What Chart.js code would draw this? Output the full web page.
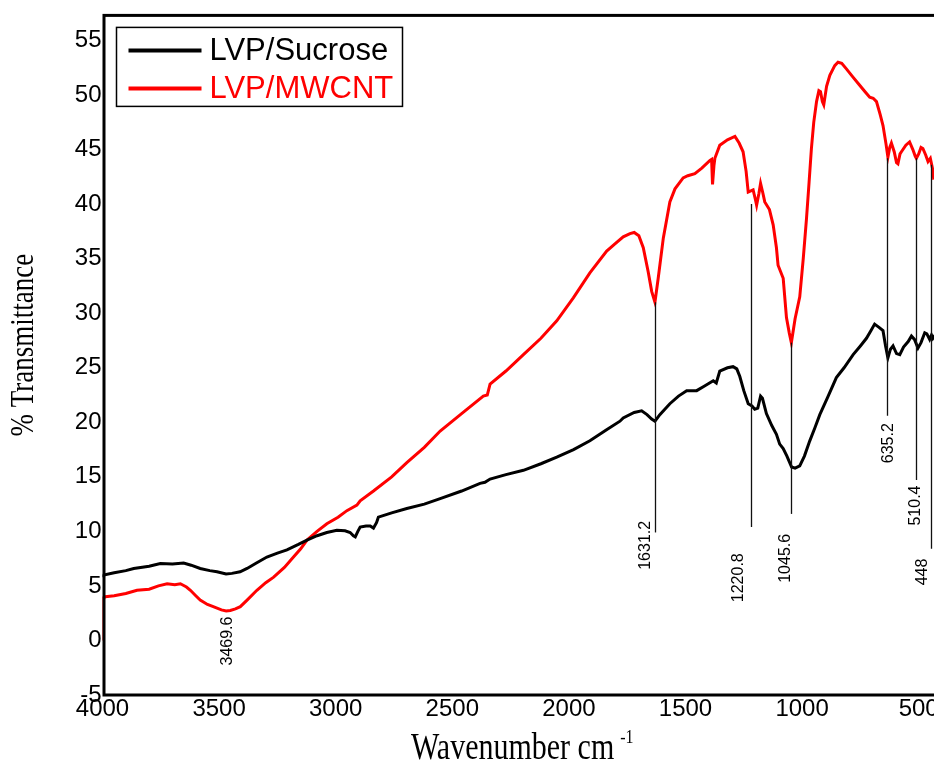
<!DOCTYPE html>
<html>
<head>
<meta charset="utf-8">
<title>FTIR spectra</title>
<script src="https://cdn.jsdelivr.net/npm/chart.js@4.4.1/dist/chart.umd.min.js"></script>
<style>
    html, body { margin: 0; padding: 0; background: #fff; overflow: hidden; }
    #ftir-chart { display: block; }
</style>
</head>
<body>
<canvas id="ftir-chart" width="950" height="762"></canvas>
<script>
'use strict';

// LVP/Sucrose spectrum (wavenumber cm-1, % transmittance)
const sucroseWave = [
    4000, 3995, 3950, 3900, 3866, 3800, 3752, 3700, 3652, 3620, 3581, 3540, 3509, 3470, 3445,
    3410, 3380, 3340, 3295, 3250, 3209, 3160, 3123, 3080, 3038, 2995, 2960, 2938, 2924, 2916,
    2905, 2895, 2870, 2852, 2838, 2825, 2817, 2760, 2695, 2620, 2552, 2460, 2381, 2360, 2338,
    2270, 2195, 2120, 2052, 1980, 1910, 1840, 1781, 1767, 1720, 1688, 1665, 1645, 1631, 1610,
    1567, 1530, 1495, 1452, 1420, 1381, 1368, 1353, 1320, 1296, 1280, 1267, 1250, 1231, 1215,
    1203, 1190, 1178, 1170, 1153, 1130, 1110, 1096, 1081, 1065, 1045, 1030, 1010, 990, 967,
    945, 924, 890, 853, 820, 781, 750, 724, 705, 689, 670, 653, 642, 632, 621,
    610, 595, 581, 565, 545, 531, 518, 503, 490, 474, 465, 453, 445, 439, 420
];
const sucroseT = [
    5.8, 6.0, 6.2, 6.4, 6.6, 6.8, 7.05, 7.0, 7.1, 6.9, 6.6, 6.4, 6.3, 6.1, 6.15,
    6.3, 6.6, 7.1, 7.65, 8.0, 8.3, 8.8, 9.2, 9.6, 9.9, 10.1, 10.05, 9.9, 9.6, 9.5,
    10.0, 10.4, 10.5, 10.5, 10.3, 10.8, 11.3, 11.7, 12.1, 12.5, 13.0, 13.7, 14.4, 14.5, 14.8,
    15.2, 15.6, 16.2, 16.8, 17.5, 18.3, 19.3, 20.1, 20.4, 20.9, 21.05, 20.7, 20.3, 20.1, 20.7,
    21.7, 22.4, 22.9, 22.9, 23.3, 23.8, 23.6, 24.7, 25.0, 25.1, 24.9, 24.2, 22.9, 21.7, 21.5,
    21.2, 21.3, 22.4, 22.2, 20.8, 19.7, 18.9, 18.0, 17.6, 16.9, 15.9, 15.8, 16.0, 16.9, 18.3,
    19.5, 20.7, 22.3, 24.1, 25.0, 26.2, 27.0, 27.7, 28.4, 29.0, 28.7, 28.4, 27.0, 25.9, 26.7,
    27.0, 26.3, 26.2, 26.9, 27.4, 27.9, 27.6, 26.8, 27.3, 28.2, 28.1, 27.6, 28.0, 27.7, 28.3
];

// LVP/MWCNT spectrum
const mwcntWave = [
    4000, 3997, 3988, 3950, 3900, 3852, 3800, 3760, 3723, 3690, 3666, 3640, 3623, 3600, 3581,
    3550, 3525, 3490, 3470, 3452, 3430, 3409, 3380, 3338, 3300, 3266, 3220, 3181, 3150, 3123,
    3080, 3038, 2990, 2952, 2909, 2895, 2838, 2760, 2695, 2620, 2552, 2460, 2367, 2350, 2338,
    2270, 2195, 2120, 2052, 1981, 1910, 1838, 1800, 1767, 1738, 1720, 1700, 1681, 1660, 1645,
    1631, 1617, 1595, 1567, 1545, 1510, 1490, 1460, 1430, 1395, 1388, 1384, 1378, 1374, 1353,
    1320, 1288, 1270, 1253, 1240, 1231, 1210, 1200, 1195, 1185, 1178, 1168, 1160, 1140, 1124,
    1110, 1103, 1081, 1067, 1055, 1046, 1030, 1010, 995, 981, 970, 960, 950, 938, 928,
    921, 913, 907, 895, 881, 860, 846, 830, 810, 780, 753, 730, 710, 695, 681,
    665, 653, 640, 632, 624, 617, 605, 595, 589, 580, 574, 555, 539, 525, 515,
    510, 500, 490, 482, 470, 460, 450, 440, 436, 420
];
const mwcntT = [
    0.0, 3.9, 4.0, 4.1, 4.3, 4.6, 4.7, 5.0, 5.2, 5.1, 5.2, 4.9, 4.6, 4.1, 3.7,
    3.3, 3.1, 2.8, 2.7, 2.75, 2.9, 3.1, 3.7, 4.6, 5.3, 5.8, 6.7, 7.65, 8.4, 9.2,
    10.0, 10.7, 11.3, 11.9, 12.4, 12.8, 13.7, 15.0, 16.3, 17.7, 19.2, 20.8, 22.4, 22.5, 23.5,
    24.7, 26.2, 27.7, 29.3, 31.4, 33.7, 35.7, 36.4, 37.0, 37.3, 37.4, 37.1, 36.0, 33.8, 32.0,
    31.0, 33.2, 36.9, 40.2, 41.4, 42.4, 42.6, 42.8, 43.3, 44.0, 44.1, 41.8, 43.5, 44.2, 45.4,
    45.9, 46.2, 45.6, 44.8, 43.0, 41.1, 41.3, 40.4, 39.9, 41.0, 41.9, 41.0, 40.2, 39.5, 38.1,
    36.0, 34.4, 33.2, 29.6, 28.2, 27.3, 29.5, 31.5, 35.0, 38.7, 42.0, 45.1, 47.5, 49.4, 50.4,
    50.3, 49.4, 49.1, 50.8, 51.8, 52.7, 53.0, 52.9, 52.4, 51.6, 50.9, 50.3, 49.8, 49.7, 49.4,
    48.2, 47.2, 45.5, 44.3, 45.2, 45.6, 44.8, 43.8, 43.7, 44.6, 44.8, 45.4, 45.7, 45.0, 44.4,
    44.2, 44.6, 45.2, 45.1, 44.5, 43.9, 44.2, 43.2, 42.4, 42.5
];

// axis ticks
const xTickValues = [4000, 3500, 3000, 2500, 2000, 1500, 1000, 500];
const yTickValues = [-5, 0, 5, 10, 15, 20, 25, 30, 35, 40, 45, 50, 55];

// marked absorption bands: leader line runs from lineTop down to lineBottom (% T),
// label is centred at labelAt (% T)
const peakWave = [3469.6, 1631.2, 1220.8, 1045.6, 635.2, 510.4, 448];
const peakLineTop = [null, 31.0, 40.0, 27.3, 44.2, 44.2, 43.6];
const peakLineBottom = [null, 9.9, 10.4, 11.6, 20.6, 14.7, 8.4];
const peakLabelAt = [-0.05, 8.72, 5.75, 7.53, 18.08, 12.37, 6.28];

const SANS = "'Liberation Sans', Arial, sans-serif";
const SERIF = "'Liberation Serif', 'Times New Roman', serif";

function toPoints(waves, values) {
    return waves.map((w, i) => ({ x: w, y: values[i] }));
}

/**
 * Peak leader lines and their rotated wavenumber labels
 */
const peakMarks = {
    id: 'peakMarks',
    afterDatasetsDraw(chart) {
        const ctx = chart.ctx;
        const xs = chart.scales.x;
        const ys = chart.scales.y;
        // small sideways nudges so labels sit beside their line
        const labelShift = [1, -10, -13, -6, 1, -1, -9];

        ctx.save();
        ctx.strokeStyle = '#111';
        ctx.lineWidth = 1.3;
        ctx.fillStyle = '#000';
        ctx.font = '16px ' + SANS;
        ctx.textAlign = 'center';
        ctx.textBaseline = 'middle';

        peakWave.forEach((w, i) => {
            const px = Math.round(xs.getPixelForValue(w)) + 0.5;
            if (peakLineTop[i] !== null) {
                ctx.beginPath();
                ctx.moveTo(px, ys.getPixelForValue(peakLineTop[i]));
                ctx.lineTo(px, ys.getPixelForValue(peakLineBottom[i]));
                ctx.stroke();
            }
            ctx.save();
            ctx.translate(px + labelShift[i], ys.getPixelForValue(peakLabelAt[i]));
            ctx.rotate(-Math.PI / 2);
            ctx.fillText(String(w), 0, 0);
            ctx.restore();
        });
        ctx.restore();
    }
};

/**
 * Frame, legend box and axis titles
 */
const decorations = {
    id: 'decorations',
    afterDraw(chart) {
        const ctx = chart.ctx;
        const area = chart.chartArea;

        ctx.save();

        // plot frame
        ctx.strokeStyle = '#000';
        ctx.lineWidth = 3;
        ctx.strokeRect(area.left + 1.5, area.top, area.right - area.left, area.bottom - area.top);

        // legend
        const lx = area.left + 14;
        const ly = area.top + 12;
        ctx.lineWidth = 1.5;
        ctx.strokeRect(lx, ly, 286, 79);

        const entries = chart.data.datasets;
        entries.forEach((ds, i) => {
            const rowY = ly + 23 + i * 38;
            ctx.strokeStyle = ds.borderColor;
            ctx.lineWidth = 4;
            ctx.beginPath();
            ctx.moveTo(lx + 12, rowY);
            ctx.lineTo(lx + 85, rowY);
            ctx.stroke();

            ctx.fillStyle = ds.borderColor;
            ctx.font = '31px ' + SANS;
            ctx.textAlign = 'left';
            ctx.textBaseline = 'alphabetic';
            ctx.fillText(ds.label, lx + 93, rowY + 10);
        });

        // x title with superscript unit
        ctx.fillStyle = '#000';
        ctx.font = '30px ' + SERIF;
        const main = 'Wavenumber cm';
        const mainW = ctx.measureText(main).width;
        ctx.font = '16px ' + SERIF;
        const supW = ctx.measureText('-1').width;
        const startX = (area.left + area.right) / 2 - (mainW + 6 + supW) / 2;

        ctx.save();
        ctx.translate(startX, 759);
        ctx.scale(1, 1.24);
        ctx.font = '30px ' + SERIF;
        ctx.fillText(main, 0, 0);
        ctx.restore();

        ctx.save();
        ctx.translate(startX + mainW + 6, 743);
        ctx.scale(1, 1.2);
        ctx.font = '16px ' + SERIF;
        ctx.fillText('-1', 0, 0);
        ctx.restore();

        // y title
        ctx.save();
        ctx.translate(33, (area.top + area.bottom) / 2 - 10);
        ctx.rotate(-Math.PI / 2);
        ctx.scale(1, 1.24);
        ctx.font = '27px ' + SERIF;
        ctx.textAlign = 'center';
        ctx.fillText('% Transmittance', 0, 0);
        ctx.restore();

        ctx.restore();
    }
};

function buildChart() {
    const canvas = document.getElementById('ftir-chart');
    const plainLabel = value => String(value);

    return new Chart(canvas.getContext('2d'), {
        type: 'line',
        data: {
            datasets: [
                {
                    label: 'LVP/Sucrose',
                    data: toPoints(sucroseWave, sucroseT),
                    borderColor: '#000000',
                    borderWidth: 3,
                    pointRadius: 0,
                    tension: 0
                },
                {
                    label: 'LVP/MWCNT',
                    data: toPoints(mwcntWave, mwcntT),
                    borderColor: '#ff0000',
                    borderWidth: 3,
                    pointRadius: 0,
                    tension: 0
                }
            ]
        },
        options: {
            responsive: false,
            animation: false,
            devicePixelRatio: 1,
            layout: { padding: { top: 13, right: 8, left: 0, bottom: 0 } },
            plugins: {
                legend: { display: false },
                tooltip: { enabled: false }
            },
            scales: {
                x: {
                    type: 'linear',
                    reverse: true,
                    min: 400,
                    max: 4000,
                    grid: { display: false, drawTicks: false },
                    border: { display: false },
                    ticks: {
                        color: '#000',
                        font: { family: SANS, size: 24 },
                        padding: 0,
                        autoSkip: false,
                        maxRotation: 0,
                        callback: plainLabel
                    },
                    afterBuildTicks: scale => {
                        scale.ticks = xTickValues.map(v => ({ value: v }));
                    },
                    afterFit: scale => { scale.height = 67; }
                },
                y: {
                    min: -5,
                    max: 57.3,
                    grid: { display: false, drawTicks: false },
                    border: { display: false },
                    ticks: {
                        color: '#000',
                        font: { family: SANS, size: 24 },
                        padding: 1,
                        callback: plainLabel
                    },
                    afterBuildTicks: scale => {
                        scale.ticks = yTickValues.map(v => ({ value: v }));
                    },
                    afterFit: scale => { scale.width = 102.5; }
                }
            }
        },
        plugins: [peakMarks, decorations]
    });
}

buildChart();
</script>
</body>
</html>
